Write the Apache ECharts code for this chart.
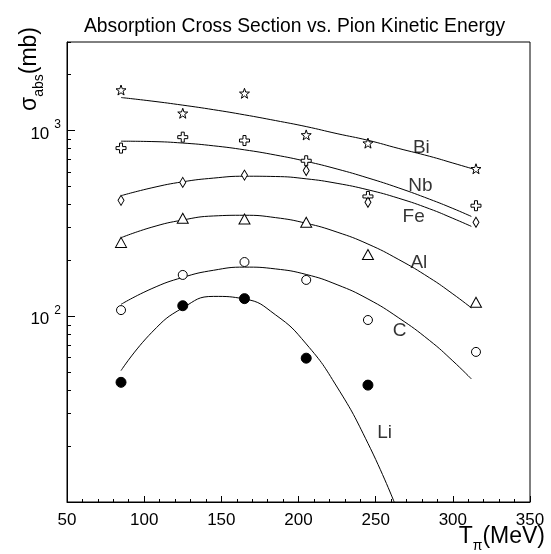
<!DOCTYPE html>
<html>
<head>
<meta charset="utf-8">
<script src="https://cdn.jsdelivr.net/npm/echarts@6/dist/echarts.min.js"></script>
<style>
  html, body { margin: 0; padding: 0; background: #fff; }
  #chart { width: 551px; height: 554px; }
</style>
</head>
<body>
<div id="chart"></div>
<script>
// Pion kinetic energies (MeV) at which the absorption cross sections were measured
const energies = [85, 125, 165, 205, 245, 315];

// Measured absorption cross sections (mb) per target nucleus
const biMeasured = [1654, 1240, 1588, 948, 856, 623];
const nbMeasured = [805, 922, 884, 688, 442, 394];
const feMeasured = [421, 526, 576, 610, 411, 321];
const alMeasured = [250, 337, 334, 321, 215, 119];
const cMeasured  = [108, 167, 196, 157, 95.5, 64.3];
const liMeasured = [44.1, 114, 124.5, 59.5, 42.6];

// Fitted curves: [energy, cross section] nodes along each curve
const biCurve = [[85, 1507], [105, 1442], [125, 1371], [145, 1296], [165, 1216], [185, 1133], [205, 1051],
                 [225, 963], [245, 887], [265, 801], [285, 727], [300, 669], [315, 615]];
const nbCurve = [[85, 877], [105, 873], [125, 857], [145, 828], [165, 788], [185, 739], [205, 683],
                 [225, 621], [245, 556], [265, 491], [285, 427], [300, 381], [312, 345]];
const feCurve = [[85, 446], [105, 492], [125, 530], [145, 555], [165, 568], [185, 566], [205, 550],
                 [225, 520], [245, 480], [265, 432], [285, 379], [300, 337], [312, 305]];
const alCurve = [[85, 265], [105, 302], [125, 330], [145, 347], [165, 350], [185, 340], [205, 317],
                 [225, 284], [245, 245], [265, 202], [285, 161], [300, 132], [312, 111]];
const cCurve  = [[85, 116], [105, 141], [125, 162], [145, 177], [165, 184], [185, 180], [205, 168],
                 [225, 148], [245, 124], [265, 98], [285, 74], [300, 57.5], [312, 46]];
const liCurve = [[85, 51], [105, 82], [125, 111], [145, 128], [165, 124], [185, 102], [205, 71],
                 [225, 41.6], [245, 20.7], [262, 10]];

// Curve labels: [name, energy, cross section]
const curveLabels = [
  ['Bi', 279.6, 805],
  ['Nb', 279, 507],
  ['Fe', 274.6, 343],
  ['Al', 278, 194],
  ['C', 265.5, 83.4],
  ['Li', 255.8, 23.7]
];

// Axis tick values
const xTicks = [50, 100, 150, 200, 250, 300, 350];
const yMajorTicks = [100, 1000];
const yMinorTicks = [20, 30, 40, 50, 60, 70, 80, 90, 200, 300, 400, 500, 600, 700, 800, 900, 2000, 3000];

const FONT = "'Liberation Sans', Arial, Helvetica, sans-serif";

const STAR = 'path://M0,-10 L2.35,-3.24 9.51,-3.09 3.8,1.24 5.88,8.09 0,4 -5.88,8.09 -3.8,1.24 -9.51,-3.09 -2.35,-3.24Z';
const CROSS = 'path://M-3,-10 H3 V-3 H10 V3 H3 V10 H-3 V3 H-10 V-3 H-3Z';

function pairs(xs, ys) {
  return ys.map((y, i) => [xs[i], y]);
}

function pointSeries(name, values, symbol, size, filled) {
  return {
    name: name,
    type: 'scatter',
    data: pairs(energies, values),
    symbol: symbol,
    symbolSize: size,
    itemStyle: {
      color: filled ? '#000' : '#fff',
      borderColor: '#000',
      borderWidth: 1,
      opacity: 1
    },
    z: 3
  };
}

function curveSeries(name, data) {
  return {
    name: name + ' fit',
    type: 'line',
    data: data,
    smooth: 0.5,
    showSymbol: false,
    symbol: 'none',
    lineStyle: { color: '#000', width: 1 },
    z: 2
  };
}

const chart = echarts.init(document.getElementById('chart'), null, { renderer: 'canvas' });

const yLabelRich = {
  b: { fontFamily: FONT, fontSize: 17, color: '#000', lineHeight: 24, verticalAlign: 'bottom' },
  s: { fontFamily: FONT, fontSize: 12, color: '#000', padding: [0, 0, 0, 5], verticalAlign: 'top' }
};

const nameRich = {
  a: { fontFamily: FONT, fontSize: 23, color: '#000', verticalAlign: 'top', lineHeight: 28 },
  s: { fontFamily: FONT, fontSize: 14, color: '#000', verticalAlign: 'bottom', lineHeight: 28, padding: [11, 0, 0, 0] }
};

const option = {
  backgroundColor: '#fff',
  animation: false,
  title: {
    text: 'Absorption Cross Section vs. Pion Kinetic Energy',
    left: 79,
    top: 12,
    textStyle: { fontFamily: FONT, fontSize: 19.3, fontWeight: 'normal', color: '#000' }
  },
  grid: {
    left: 67,
    right: 21,
    top: 42,
    bottom: 52,
    show: true,
    borderColor: '#000',
    borderWidth: 1,
    backgroundColor: 'transparent'
  },
  xAxis: {
    type: 'value',
    min: 50,
    max: 350,
    interval: 50,
    axisLine: { show: true, onZero: false, lineStyle: { color: '#000', width: 1 } },
    axisTick: { show: true, inside: true, length: 6, lineStyle: { color: '#000' } },
    minorTick: { show: true, splitNumber: 5, length: 3, lineStyle: { color: '#000' } },
    splitLine: { show: false },
    axisLabel: {
      margin: 10,
      fontFamily: FONT,
      fontSize: 17,
      color: '#000',
      customValues: xTicks
    }
  },
  yAxis: [
    {
      type: 'log',
      logBase: 10,
      min: 10,
      max: 3000,
      axisLine: { show: true, onZero: false, lineStyle: { color: '#000', width: 1 } },
      axisTick: { show: true, inside: true, length: 8, customValues: yMajorTicks, lineStyle: { color: '#000' } },
      splitLine: { show: false },
      axisLabel: {
        margin: 6,
        customValues: yMajorTicks,
        formatter: function (v) {
          const e = Math.round(Math.log10(v));
          return '{b|10}{s|' + e + '}';
        },
        rich: yLabelRich
      }
    },
    {
      type: 'log',
      logBase: 10,
      min: 10,
      max: 3000,
      position: 'left',
      offset: 0,
      axisLine: { show: false },
      axisTick: { show: true, inside: true, length: 4, customValues: yMinorTicks, lineStyle: { color: '#000' } },
      splitLine: { show: false },
      axisLabel: { show: false }
    }
  ],
  series: [
    curveSeries('Bi', biCurve),
    curveSeries('Nb', nbCurve),
    curveSeries('Fe', feCurve),
    curveSeries('Al', alCurve),
    curveSeries('C', cCurve),
    curveSeries('Li', liCurve),
    pointSeries('Bi', biMeasured, STAR, 10, false),
    pointSeries('Nb', nbMeasured, CROSS, 10, false),
    pointSeries('Fe', feMeasured, 'diamond', [6, 10], false),
    pointSeries('Al', alMeasured, 'triangle', [11, 10], false),
    pointSeries('C', cMeasured, 'circle', 9, false),
    pointSeries('Li', liMeasured, 'circle', 10, true),
    {
      name: 'labels',
      type: 'scatter',
      yAxisIndex: 1,
      symbol: 'circle',
      symbolSize: 1,
      silent: true,
      itemStyle: { color: 'rgba(0,0,0,0)' },
      data: curveLabels.map(l => ({ name: l[0], value: [l[1], l[2]] })),
      label: {
        show: true,
        position: 'inside',
        formatter: '{b}',
        fontFamily: FONT,
        fontSize: 19,
        color: '#000'
      },
      z: 4
    }
  ],
  graphic: [
    {
      type: 'text',
      right: 6,
      top: 525,
      style: {
        text: '{a|T}{s|π}{a|(MeV)}',
        rich: nameRich
      }
    },
    {
      type: 'text',
      x: 32,
      y: 69,
      rotation: Math.PI / 2,
      style: {
        text: '{a|σ}{s|abs}{a|(mb)}',
        align: 'center',
        verticalAlign: 'middle',
        rich: nameRich
      }
    }
  ]
};

chart.setOption(option);
</script>
</body>
</html>
